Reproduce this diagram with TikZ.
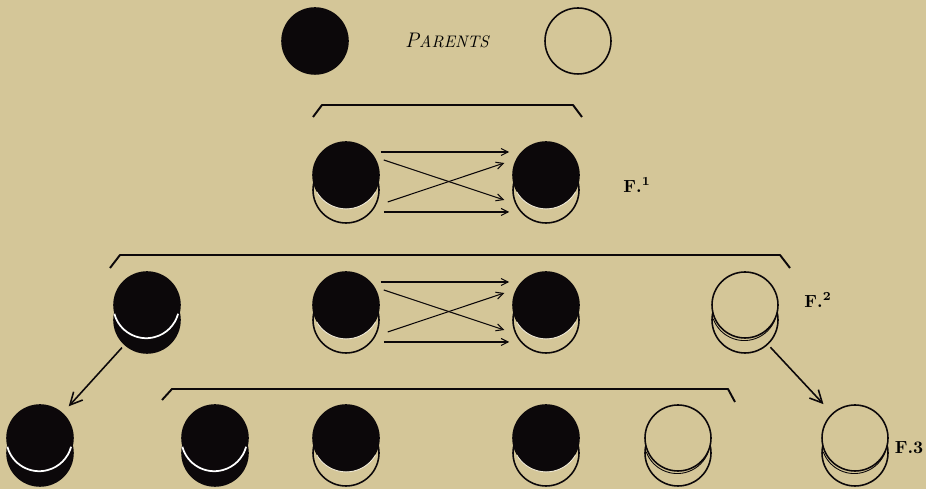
\documentclass[tikz,border=0pt]{standalone}
\usetikzlibrary{arrows.meta}
\definecolor{paper}{RGB}{212,198,152}
\definecolor{ink}{RGB}{12,8,10}
\begin{document}
\begin{tikzpicture}[x=0.02cm, y=0.02cm,
    pea/.style={circle, minimum size=1.32cm, inner sep=0pt, line width=0.9pt, draw=ink},
    dark/.style={pea, fill=ink},
    light/.style={pea, fill=paper},
    shine/.style={draw=white, line width=1pt},
    rim/.style={draw=ink, line width=0.5pt},
    bracket/.style={draw=ink, line width=1.1pt, line join=round},
    cross/.style={draw=ink, line width=0.6pt, -{Straight Barb[length=4pt, width=4pt]}},
    descent/.style={draw=ink, line width=0.9pt, shorten <=2pt, -{Straight Barb[length=7pt, width=7pt]}},
    gen/.style={font=\bfseries, inner sep=0pt}]
  \useasboundingbox[fill=paper] (0,0) rectangle (926,489);

  % parents
  \node[dark]  (pd) at (315,448) {};
  \node[light] (pw) at (578,448) {};
  \node[inner sep=0pt] (plabel) at (447,449)
    {\itshape\fontsize{12}{12}\selectfont P\fontsize{9.5}{10}\selectfont ARENTS};

  % peas: lower circle first, then the top one
  \foreach \n/\x/\y/\u/\t in {
      f1a/346/314/light/dark, f1b/546/314/light/dark,
      f2a/147/184/dark/dark, f2b/346/184/light/dark, f2c/546/184/light/dark,
      f2d/745/184/light/light,
      f3a/40/51/dark/dark, f3b/215/51/dark/dark, f3c/346/51/light/dark,
      f3d/546/51/light/dark, f3e/678/51/light/light, f3f/855/51/light/light} {
    \node[\u] (\n-u) at (\x,\y-15) {};
    \node[\t] (\n) at (\x,\y) {};
  }
  \foreach \n in {f2a, f3a, f3b}
    \draw[shine] (\n.195) arc[start angle=195, end angle=345, radius=0.66cm];
  \foreach \n in {f1a, f1b, f2b, f2c, f3c, f3d}
    \draw[draw=paper!40!white, line width=0.5pt] (\n.210) arc[start angle=210, end angle=330, radius=0.68cm];
  \foreach \n in {f2d, f3e, f3f}
    \draw[rim] ([yshift=-1.3pt]\n.200) arc[start angle=200, end angle=340, radius=0.66cm];

  % crossings
  \foreach \a/\b in {f1a/f1b, f2b/f2c} {
    \draw[cross] ([yshift=.46cm, xshift=.5pt]\a.east) -- ([yshift=.46cm, xshift=-1.7pt]\b.west);
    \draw[cross] ([yshift=.30cm, xshift=2.3pt]\a.east) -- ([yshift=-.50cm, xshift=-4.5pt]\b.west);
    \draw[cross] ([yshift=-.54cm, xshift=4.5pt]\a.east) -- ([yshift=.24cm, xshift=-4.5pt]\b.west);
    \draw[cross] ([yshift=-.74cm, xshift=2.3pt]\a.east) -- ([yshift=-.74cm, xshift=-1.7pt]\b.west);
  }

  % brackets
  \draw[bracket] (313,372) -- (322,384) -- (573,384) -- (582,372);
  \draw[bracket] (110,221) -- (120,234) -- (780,234) -- (790,221);
  \draw[bracket] (162,89) -- (172,100) -- (728,100) -- (735,87);

  % descent
  \draw[descent, shorten >=0.18cm] (f2a-u) -- (f3a);
  \draw[descent, shorten >=0.25cm] (f2d-u) -- (f3f);

  \node[gen] (g1) at (637,304) {F.\textsuperscript{1}};
  \node[gen] (g2) at (818,189) {F.\textsuperscript{2}};
  \node[gen] (g3) at (909,41) {F.3};
\end{tikzpicture}
\end{document}
